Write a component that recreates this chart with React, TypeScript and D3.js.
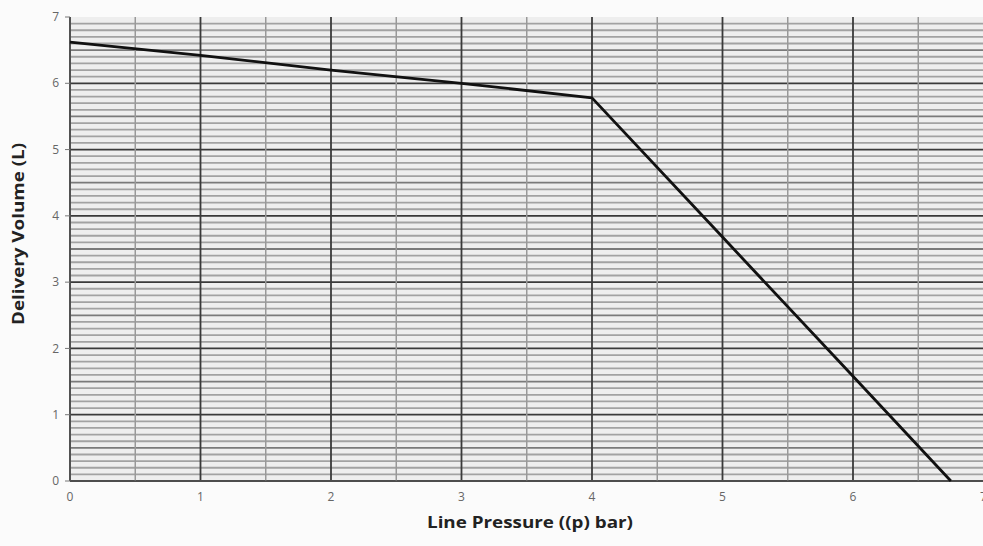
import React from 'react';
import * as d3 from 'd3';

// curve: pressure (bar) vs delivery volume (L)
const pressure = [0, 1, 2, 3, 4, 5, 6, 6.75];
const volume = [6.62, 6.42, 6.2, 6.0, 5.78, 3.68, 1.58, 0];
const xTicks = [0, 1, 2, 3, 4, 5, 6, 7];
const yTicks = [0, 1, 2, 3, 4, 5, 6, 7];

const W = 983;
const H = 546;
const margin = { top: 17, right: 0, bottom: 65, left: 70 };

const App: React.FC = () => {
  const x = d3.scaleLinear().domain([0, 7]).range([margin.left, W - margin.right + 0.5]);
  const y = d3.scaleLinear().domain([0, 7]).range([H - margin.bottom, margin.top]);

  const minorY = d3.range(0, 70).map(i => i / 10);
  const minorX = d3.range(0, 14).map(i => i / 2);

  const line = d3.line<number>()
    .x((_, i) => x(pressure[i]))
    .y(d => y(d));

  return (
    <svg width={W} height={H} style={{ position: 'fixed', left: 0, top: 0, background: '#fbfbfb' }}
      fontFamily="'Open Sans', sans-serif">
      {/* plot background */}
      <rect x={x(0)} y={y(7)} width={x(7) - x(0)} height={y(0) - y(7)} fill="#eeeeee" />

      {/* horizontal grid every 0.1 */}
      {minorY.map(v => {
        const isInt = Math.abs(v - Math.round(v)) < 1e-6;
        const isHalf = Math.abs(v * 2 - Math.round(v * 2)) < 1e-6;
        return (
          <line key={'h' + v} x1={x(0)} x2={x(7)} y1={y(v)} y2={y(v)}
            stroke={isInt ? '#3a3a3a' : isHalf ? '#7a7a7a' : '#a2a2a2'}
            strokeWidth={isInt ? 1.8 : 1.8} />
        );
      })}

      {/* vertical grid every 0.5 */}
      {minorX.map(v => {
        const isInt = Math.abs(v - Math.round(v)) < 1e-6;
        return (
          <line key={'v' + v} x1={x(v)} x2={x(v)} y1={y(0)} y2={y(7)}
            stroke={isInt ? '#3a3a3a' : '#999'}
            strokeWidth={isInt ? 1.8 : 1.5} />
        );
      })}

      {/* axes */}
      <line x1={x(0)} x2={x(0)} y1={y(0)} y2={y(7)} stroke="#555" strokeWidth={1.5} />
      <line x1={x(0)} x2={x(7)} y1={y(0)} y2={y(0)} stroke="#555" strokeWidth={1.5} />

      {yTicks.map(t => (
        <g key={'yt' + t}>
          <line x1={x(0) - 5} x2={x(0)} y1={y(t)} y2={y(t)} stroke="#777" strokeWidth={1} />
          <text x={x(0) - 11} y={y(t)} dy="0.35em" textAnchor="end" fontSize={12} fill="#666">{t}</text>
        </g>
      ))}
      {xTicks.map(t => (
        <text key={'xt' + t} x={x(t)} y={y(0) + 20} textAnchor="middle" fontSize={12} fill="#666">{t}</text>
      ))}

      {/* data line */}
      <path d={line(volume) ?? ''} fill="none" stroke="#111" strokeWidth={2.8} strokeLinejoin="round" />

      {/* axis titles */}
      <text x={530} y={528} textAnchor="middle" fontSize={16} fontWeight="bold" fill="#222"
        textLength={206} lengthAdjust="spacingAndGlyphs">Line Pressure ((p) bar)</text>
      <text transform="translate(24,234) rotate(-90)" textAnchor="middle" fontSize={16} fontWeight="bold" fill="#222"
        textLength={182} lengthAdjust="spacingAndGlyphs">Delivery Volume (L)</text>
    </svg>
  );
};

export default App;
